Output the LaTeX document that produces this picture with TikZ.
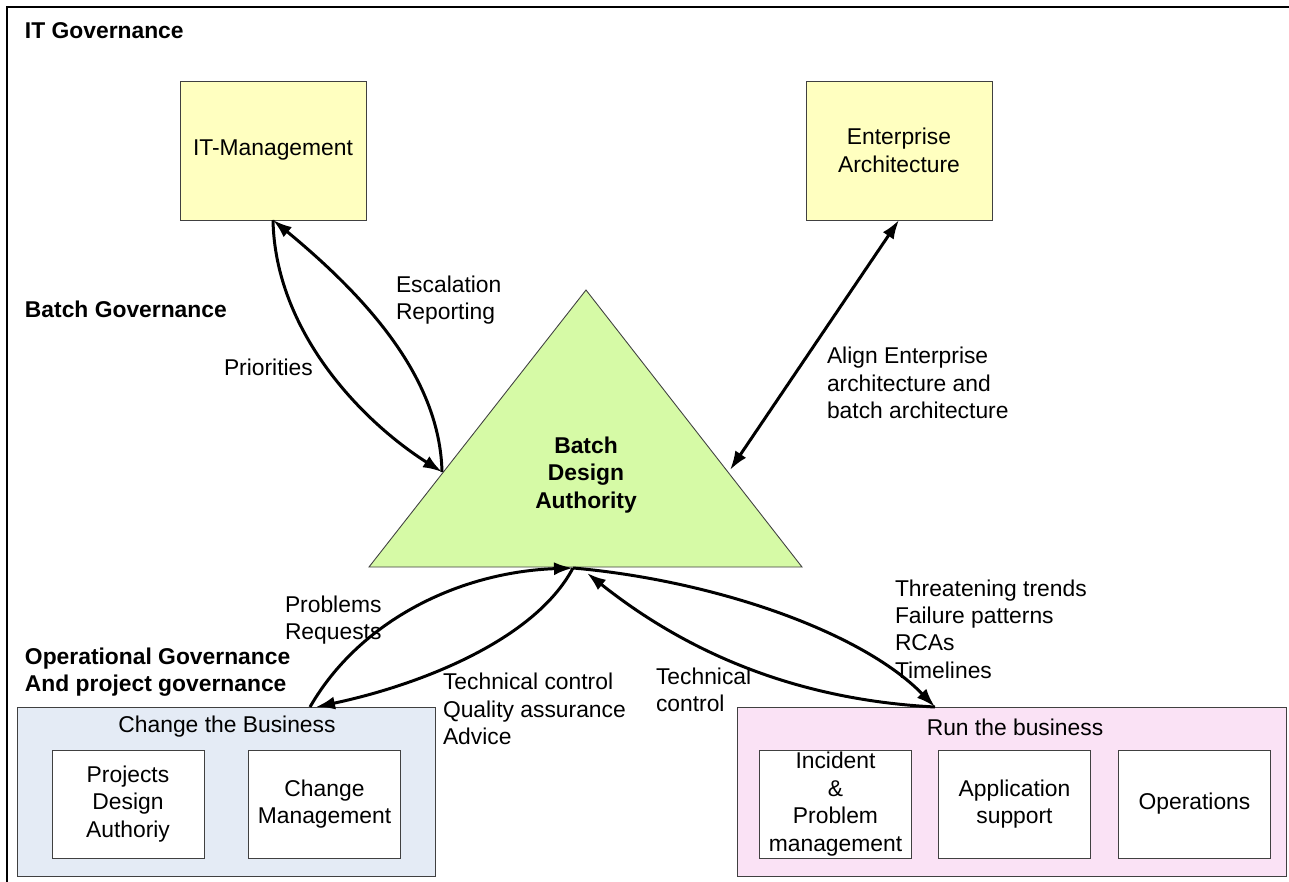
\documentclass[tikz,border=0pt]{standalone}
\usepackage{fontspec}
\setmainfont{Liberation Sans}
\usetikzlibrary{arrows.meta}

\definecolor{boxyellow}{HTML}{FFFFC0}
\definecolor{bdagreen}{HTML}{D6FAA6}
\definecolor{changeblue}{HTML}{E4EBF5}
\definecolor{runpink}{HTML}{FAE2F5}

\begin{document}
\begin{tikzpicture}[x=0.02cm, y=-0.02cm, outer sep=0pt, font=\fontsize{13}{15.6}\selectfont]

\tikzstyle{mgmt}=[draw=black!75, line width=0.5pt, fill=boxyellow, rectangle, minimum width=3.72cm, minimum height=2.78cm, align=center]
\tikzstyle{group}=[draw=black!75, line width=0.5pt, rectangle, minimum height=3.38cm]
\tikzstyle{unit}=[draw=black!75, line width=0.5pt, fill=white, rectangle, inner sep=1pt, minimum width=3.04cm, minimum height=2.16cm, align=center]
\tikzstyle{lbl}=[anchor=west, inner sep=0pt, align=left]
\tikzstyle{flow}=[line width=1.7pt, -{Latex[length=0.38cm, width=0.26cm]}]

\useasboundingbox (0,0) rectangle (1289,882);
\draw[line width=0.8pt] (7,882) -- (7,7) -- (1289,7);

% governance levels
\node[lbl, font=\fontsize{13}{15.6}\selectfont\bfseries] (itgov) at (25,31) {IT Governance};
\node[lbl, font=\fontsize{13}{15.6}\selectfont\bfseries] (batchgov) at (25,309) {Batch Governance};
\node[lbl, font=\fontsize{13}{15.6}\selectfont\bfseries] (opgov) at (25,672) {Operational Governance\\And project governance};

% top boxes
\node[mgmt] (itm) at (273,150.5) {IT-Management};
\node[mgmt] (ea) at (899,150.5) {Enterprise\\Architecture};

% batch design authority
\draw[draw=black!75, line width=0.5pt, fill=bdagreen] (586,290) -- (802,567) -- (369,567) -- cycle;
\node[align=center, font=\fontsize{13}{15.6}\selectfont\bfseries] (bda) at (586,475) {Batch\\Design\\Authority};
\coordinate (bdaL) at (442,472);
\coordinate (bdaR) at (730,470);
\coordinate (bdaB) at (573,568);
\coordinate (bdaB2) at (587,573);

% bottom groups
\node[group, fill=changeblue, minimum width=8.36cm] (ctb) at (226,791.5) {};
\node (ctbtitle) at (227,727) {Change the Business};
\node[unit] (pda) at (128,804) {Projects\\Design\\Authoriy};
\node[unit] (chm) at (324.5,804) {Change\\Management};

\node[group, fill=runpink, minimum width=10.98cm] (rtb) at (1011.5,791.5) {};
\node (rtbtitle) at (1015,727) {Run the business};
\node[unit] (ipm) at (835.5,804) {Incident\\\&\\Problem\\management};
\node[unit] (aps) at (1014.5,804) {Application\\support};
\node[unit] (ops) at (1194.5,804) {Operations};

\coordinate (ctbT) at (310,707);
\coordinate (ctbT2) at (316,707);
\coordinate (rtbT) at (935,707);

% connectors
\draw[flow] (itm.south) .. controls (275,330) and (360,420) .. (bdaL);
\draw[flow] (bdaL) .. controls (440,380) and (370,300) .. (itm.south);
\draw[line width=1.7pt, {Latex[length=0.38cm, width=0.26cm]}-{Latex[length=0.38cm, width=0.26cm]}] (bdaR) -- (ea.south);

\draw[flow] (ctbT) .. controls (360,620) and (460,572) .. (bdaB);
\draw[flow] (bdaB) .. controls (535,640) and (420,685) .. (ctbT2);
\draw[flow] (bdaB) .. controls (710,580) and (860,630) .. (rtbT);
\draw[flow] (rtbT) .. controls (800,700) and (690,655) .. (bdaB2);

% labels
\node[lbl] (esc) at (396,300) {Escalation\\Reporting};
\node[lbl] (prio) at (224,367) {Priorities};
\node[lbl] (align) at (827,383) {Align Enterprise\\architecture and\\batch architecture};
\node[lbl] (probs) at (285,620) {Problems\\Requests};
\node[lbl] (tcqa) at (443,709) {Technical control\\Quality assurance\\Advice};
\node[lbl] (tc) at (656,690) {Technical\\control};
\node[lbl] (trends) at (895,629) {Threatening trends\\Failure patterns\\RCAs\\Timelines};

\end{tikzpicture}
\end{document}
